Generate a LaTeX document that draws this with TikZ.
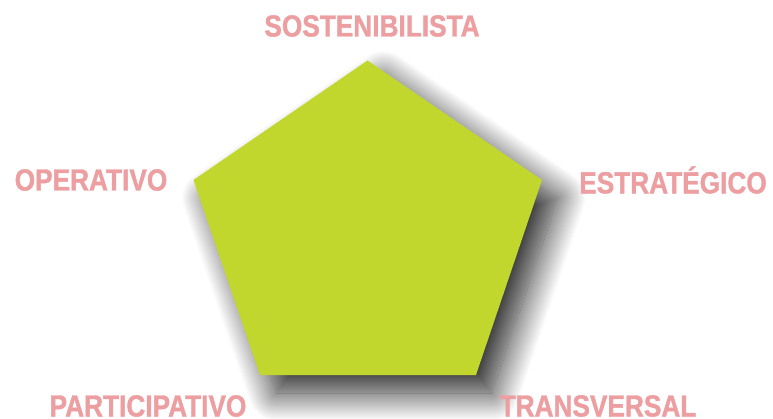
\documentclass[tikz,border=0pt]{standalone}
\usepackage{fontspec}
\setmainfont[FakeStretch=0.86,BoldFeatures={FakeBold=1.2}]{Liberation Sans}
\usetikzlibrary{shadows.blur}
\definecolor{pentgreen}{HTML}{C1D72E}
\definecolor{labelpink}{HTML}{EC9EA1}
\begin{document}
\begin{tikzpicture}[x=1pt,y=-1pt,
  lbl/.style={text=labelpink,font=\fontsize{30.5}{31}\selectfont\bfseries,inner sep=0pt,anchor=center}]
\useasboundingbox (0,0) rectangle (773,419);
\coordinate (t) at (367.5,60.5);
\coordinate (r) at (542,180);
\coordinate (br) at (476,375);
\coordinate (bl) at (260,375);
\coordinate (l) at (193.5,180);
\fill[pentgreen,blur shadow={shadow xshift=16pt,shadow yshift=-18pt,shadow blur radius=28pt,shadow opacity=85,shadow blur steps=30}]
  (t) -- (r) -- (br) -- (bl) -- (l) -- cycle;
\node[lbl] (sos) at (372,26) {SOSTENIBILISTA};
\node[lbl] (est) at (673,180) {ESTRATÉGICO};
\node[lbl] (ope) at (91,180) {OPERATIVO};
\node[lbl] (par) at (148,406) {PARTICIPATIVO};
\node[lbl] (tra) at (598,406) {TRANSVERSAL};
\end{tikzpicture}
\end{document}
